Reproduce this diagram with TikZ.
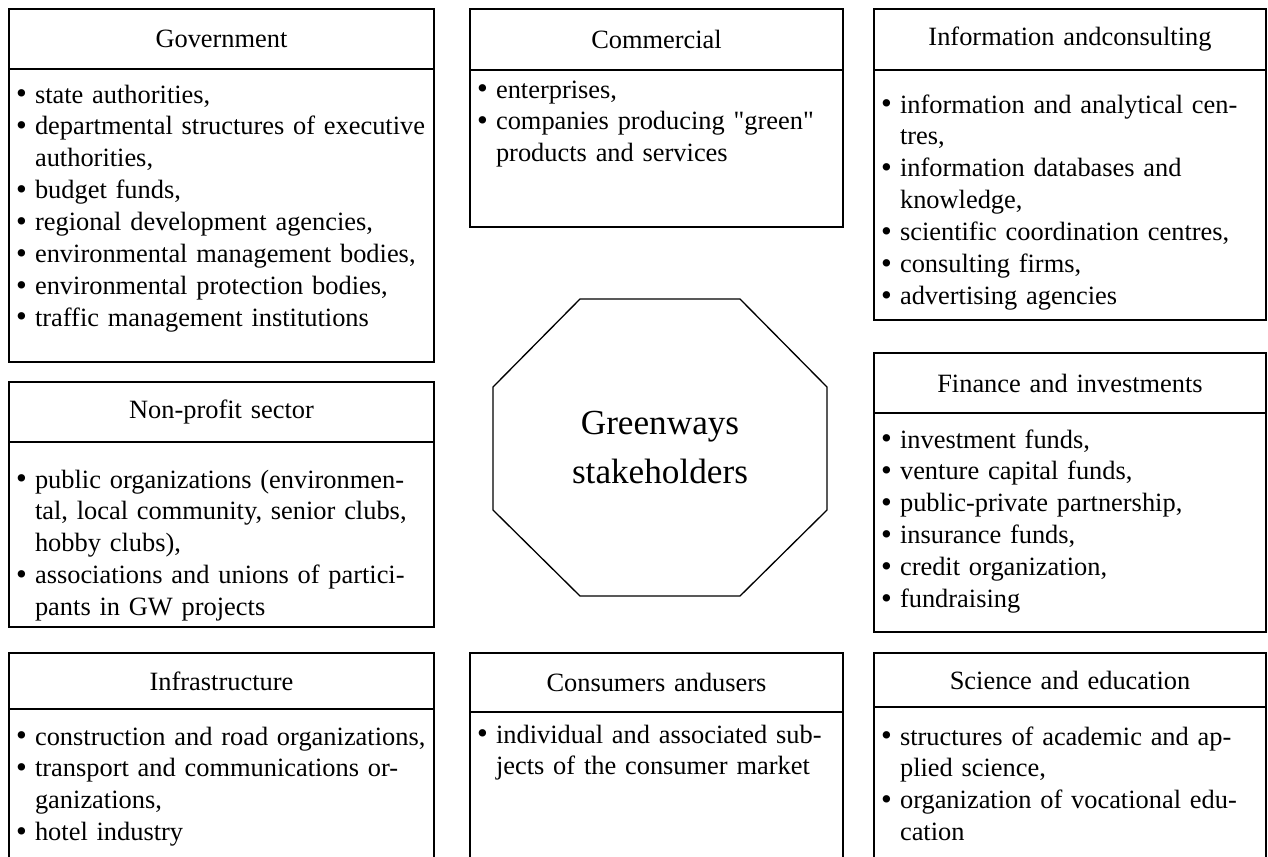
\documentclass[tikz,border=0pt]{standalone}
\usepackage{fontspec}
\setmainfont{Liberation Serif}[Ligatures=TeXOff]
\usetikzlibrary{positioning}

\newlength{\px}
\setlength{\px}{0.4545pt}
\newcommand{\bul}{\makebox[0.35em][c]{\raisebox{-0.3pt}{\fontsize{14}{14}\selectfont\textbullet}}\ }
\newcommand{\ind}{\hphantom{\bul}}

\tikzset{
  head/.style={draw, line width=0.6pt, outer sep=0pt, inner xsep=8\px, inner ysep=0pt,
    align=center, minimum height=#1\px},
  items/.style 2 args={draw, line width=0.6pt, outer sep=0pt, inner xsep=8\px, inner ysep=0pt,
    align=left, text height=#1\px, text depth=#2\px},
  colA/.style={text width=409\px},
  colB/.style={text width=357\px},
  colC/.style={text width=376\px}
}

\begin{document}
\begin{tikzpicture}[x=0.4545pt,y=-0.4545pt,font=\fontsize{12}{14.5}\selectfont]
        \useasboundingbox (0,0) rectangle (1268,856);
        \clip (0,0) rectangle (1268,856);
        % left column
        \node[head=60, colA, anchor=north west] (gov) at (9,9) {Government};
        \node[items={34}{259}, colA, below=0pt of gov] (govlist) {\bul state authorities,\\
          \bul departmental structures of executive\\ \ind authorities,\\
          \bul budget funds,\\
          \bul regional development agencies,\\
          \bul environmental management bodies,\\
          \bul environmental protection bodies,\\
          \bul traffic management institutions};
        \node[head=60, colA, anchor=north west] (npo) at (9,382) {Non-profit sector};
        \node[items={46}{139}, colA, below=0pt of npo] (npolist) {\bul public organizations (environmen-\\
          \ind tal, local community, senior clubs,\\ \ind hobby clubs),\\
          \bul associations and unions of partici-\\ \ind pants in GW projects};
        \node[head=56, colA, anchor=north west] (infra) at (9,653) {Infrastructure};
        \node[items={36}{150}, colA, below=0pt of infra] (infralist) {\bul construction and road organizations,\\
          \bul transport and communications or-\\ \ind ganizations,\\
          \bul hotel industry};
        % middle column
        \node[head=61, colB, anchor=north west] (comm) at (470,9) {Commercial};
        \node[items={28}{129}, colB, below=0pt of comm] (commlist) {\bul enterprises,\\
          \bul companies producing "green"\\ \ind products and services};
        \node[align=center, font=\fontsize{16}{22.5}\selectfont] (hub) at (660,447.5) {Greenways\\stakeholders};
        \draw[line width=0.6pt] (580,299) -- (740,299) -- (827,387) -- (827,510) -- (740,596)
          -- (580,596) -- (493,510) -- (493,387) -- cycle;
        \node[head=59, colB, anchor=north west] (users) at (470,653) {Consumers andusers};
        \node[items={31}{150}, colB, below=0pt of users] (userslist) {\bul individual and associated sub-\\
          \ind jects of the consumer market};
        % right column
        \node[head=61, colC, anchor=north west] (info) at (874,9) {Information andconsulting};
        \node[items={43}{207}, colC, below=0pt of info] (infolist) {\bul information and analytical cen-\\ \ind tres,\\
          \bul information databases and\\ \ind knowledge,\\
          \bul scientific coordination centres,\\
          \bul consulting firms,\\
          \bul advertising agencies};
        \node[head=60, colC, anchor=north west] (fin) at (874,353) {Finance and investments};
        \node[items={35}{184}, colC, below=0pt of fin] (finlist) {\bul investment funds,\\
          \bul venture capital funds,\\
          \bul public-private partnership,\\
          \bul insurance funds,\\
          \bul credit organization,\\
          \bul fundraising};
        \node[head=54, colC, anchor=north west] (sci) at (874,653) {Science and education};
        \node[items={38}{150}, colC, below=0pt of sci] (scilist) {\bul structures of academic and ap-\\
          \ind plied science,\\
          \bul organization of vocational edu-\\ \ind cation};
\end{tikzpicture}
\end{document}
